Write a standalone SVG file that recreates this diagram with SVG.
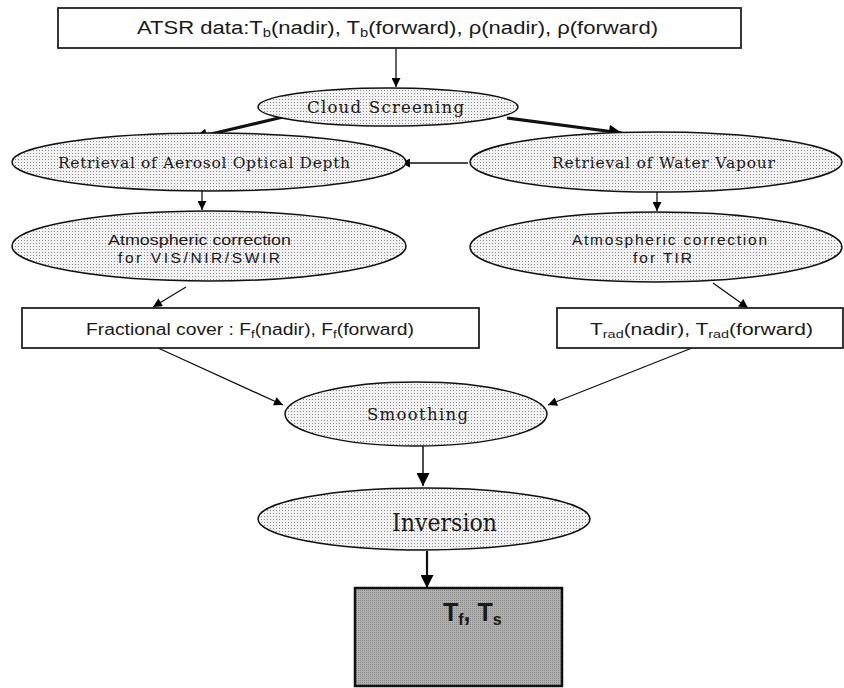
<svg xmlns="http://www.w3.org/2000/svg" width="844" height="688" viewBox="0 0 844 688">
<defs>
<pattern id="dots" width="3" height="3" patternUnits="userSpaceOnUse"><rect width="3" height="3" fill="#f2f2f2"/><rect width="1" height="1" fill="#8c8c8c"/></pattern>
<pattern id="dark" width="2" height="2" patternUnits="userSpaceOnUse"><rect width="2" height="2" fill="#b0b0b0"/><rect width="1" height="1" fill="#888"/></pattern>
<marker id="ah" viewBox="0 0 10 10" refX="10" refY="5" markerUnits="userSpaceOnUse" markerWidth="10" markerHeight="9" orient="auto"><path d="M0,0 L10,5 L0,10 z" fill="#000"/></marker>
<marker id="ahb" viewBox="0 0 10 10" refX="10" refY="5" markerUnits="userSpaceOnUse" markerWidth="15" markerHeight="13" orient="auto"><path d="M0,0 L10,5 L0,10 z" fill="#000"/></marker>
</defs>
<style>
.box{fill:#fff;stroke:#222;stroke-width:1.8}
.ell{fill:url(#dots);stroke:#111;stroke-width:1.5}
.sans{font-family:"Liberation Sans",Arial,sans-serif;fill:#1a1a1a}
.narrow{font-family:"Liberation Sans Narrow","Liberation Sans",Arial,sans-serif;fill:#1a1a1a}
.serif{font-family:"DejaVu Serif","Liberation Serif",serif;fill:#1a1a1a}
.c{stroke:#111;stroke-width:1.3;fill:none;marker-end:url(#ah)}
.thick{stroke:#111;stroke-width:3;fill:none;marker-end:url(#ahb)}
</style>
<rect width="844" height="688" fill="#fff"/>

<g id="connectors">
<path class="c" d="M396,48 L396,87"/>
<path class="thick" d="M283,117 L194,138"/>
<path class="thick" d="M507,118 L622,133"/>
<path class="c" d="M468,163 L401,163"/>
<path class="c" d="M202,186 L202,210"/>
<path class="c" d="M657,187 L657,211"/>
<path class="c" d="M186,287 L153,307"/>
<path class="c" d="M713,283 L748,308"/>
<path class="c" d="M158,348 L283,405"/>
<path class="c" d="M692,348 L548,405"/>
<path class="c" d="M423,446 L423,486" style="marker-end:url(#ahb);stroke-width:1.5"/>
<path class="c" d="M427,551 L427,588" style="marker-end:url(#ahb);stroke-width:2.2"/>
</g>

<g id="atsr">
<rect class="box" x="58" y="8" width="683" height="40"/>
<text class="sans" x="137" y="34" font-size="18" textLength="521" lengthAdjust="spacingAndGlyphs">ATSR data:T<tspan dy="3" font-size="12">b</tspan><tspan dy="-3">(nadir), T</tspan><tspan dy="3" font-size="12">b</tspan><tspan dy="-3">(forward), ρ(nadir), ρ(forward)</tspan></text>
</g>

<g id="cloud">
<ellipse class="ell" cx="388" cy="107" rx="130" ry="19"/>
<text class="serif" x="307" y="113" font-size="16.5" textLength="157" lengthAdjust="spacing">Cloud Screening</text>
</g>

<g id="aod">
<ellipse class="ell" cx="209" cy="162" rx="197" ry="29"/>
<text class="serif" x="58" y="168" font-size="15.5" textLength="292" lengthAdjust="spacing">Retrieval of Aerosol Optical Depth</text>
</g>

<g id="wv">
<ellipse class="ell" cx="656" cy="162" rx="186" ry="30"/>
<text class="serif" x="552" y="168" font-size="15.5" textLength="223" lengthAdjust="spacing">Retrieval of Water Vapour</text>
</g>

<g id="atmosL">
<ellipse class="ell" cx="209" cy="246" rx="197" ry="35"/>
<text class="narrow" x="108" y="245" font-size="15.5" textLength="183" lengthAdjust="spacingAndGlyphs">Atmospheric correction</text>
<text class="narrow" x="118" y="263" font-size="15.5" textLength="162" lengthAdjust="spacing">for VIS/NIR/SWIR</text>
</g>

<g id="atmosR">
<ellipse class="ell" cx="656" cy="247" rx="186" ry="35"/>
<text class="narrow" x="572" y="245" font-size="15.5" textLength="195" lengthAdjust="spacing">Atmospheric correction</text>
<text class="narrow" x="633" y="263" font-size="15.5" textLength="59" lengthAdjust="spacing">for TIR</text>
</g>

<g id="frac">
<rect class="box" x="22" y="308" width="457" height="40"/>
<text class="sans" x="86" y="335" font-size="16" textLength="328" lengthAdjust="spacingAndGlyphs">Fractional cover : F<tspan dy="3" font-size="11">f</tspan><tspan dy="-3">(nadir), F</tspan><tspan dy="3" font-size="11">f</tspan><tspan dy="-3">(forward)</tspan></text>
</g>

<g id="trad">
<rect class="box" x="557" y="308" width="286" height="40"/>
<text class="sans" x="590" y="335" font-size="16" textLength="223" lengthAdjust="spacingAndGlyphs">T<tspan dy="3" font-size="11">rad</tspan><tspan dy="-3">(nadir),  T</tspan><tspan dy="3" font-size="11">rad</tspan><tspan dy="-3">(forward)</tspan></text>
</g>

<g id="smoothing">
<ellipse class="ell" cx="416" cy="414" rx="131" ry="32"/>
<text class="serif" x="367" y="420" font-size="16.5" textLength="101" lengthAdjust="spacing">Smoothing</text>
</g>

<g id="inversion">
<ellipse class="ell" cx="424" cy="519" rx="166" ry="31"/>
<text class="serif" x="392" y="531" font-size="24" textLength="105" lengthAdjust="spacingAndGlyphs">Inversion</text>
</g>

<g id="result">
<rect x="355" y="588" width="207" height="98" fill="url(#dark)" stroke="#111" stroke-width="2.5"/>
<text class="sans" x="443" y="621" font-size="25" font-weight="bold" fill="#111">T<tspan dy="4" font-size="16">f</tspan><tspan dy="-4">, T</tspan><tspan dy="4" font-size="16">s</tspan></text>
</g>
</svg>
